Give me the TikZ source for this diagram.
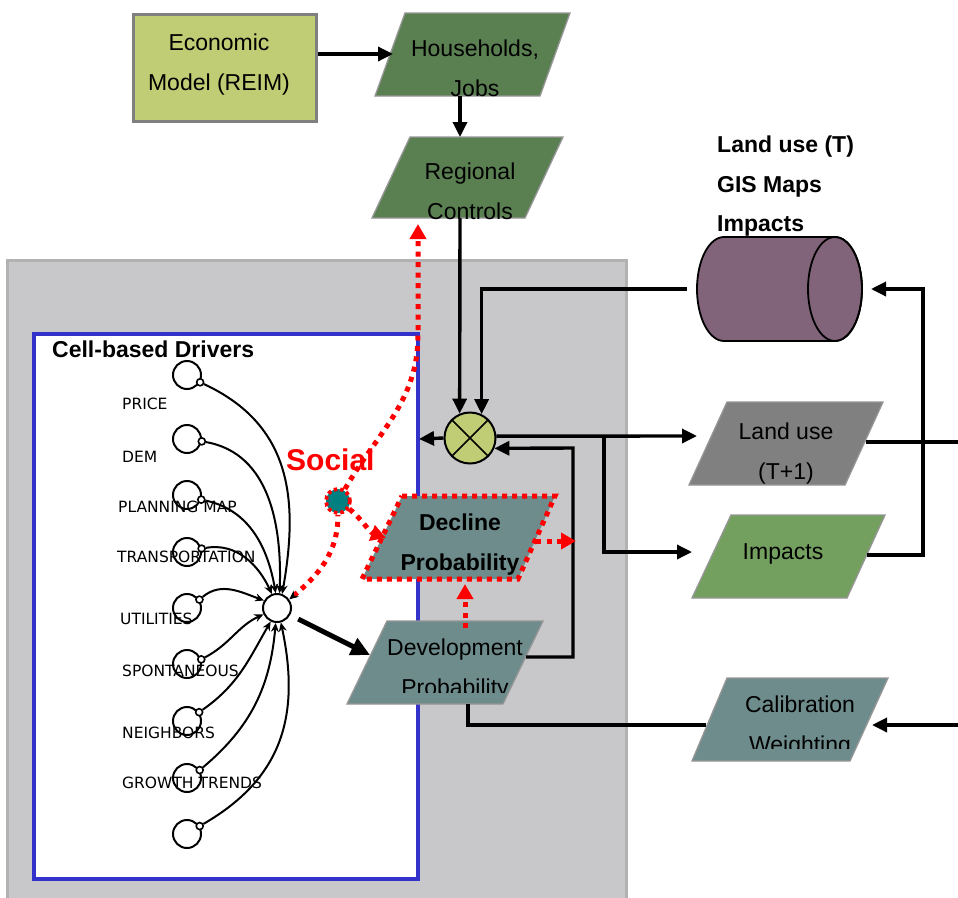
\documentclass[tikz,border=0pt]{standalone}
\usepackage{fontspec}
\setmainfont{Liberation Sans}
\newfontfamily\driverfont{DejaVu Sans}
\usetikzlibrary{arrows.meta}

\definecolor{ecoFill}{RGB}{193,205,116}
\definecolor{darkGreen}{RGB}{90,128,82}
\definecolor{impGreen}{RGB}{115,160,95}
\definecolor{luGray}{RGB}{128,128,128}
\definecolor{probTeal}{RGB}{110,140,140}
\definecolor{dbPurple}{RGB}{129,99,122}
\definecolor{panelGray}{RGB}{200,200,202}
\definecolor{panelEdge}{RGB}{178,178,178}
\definecolor{driverBlue}{RGB}{51,51,204}
\definecolor{edgeGray}{RGB}{150,150,150}
\definecolor{socTeal}{RGB}{0,128,128}

\begin{document}
\begin{tikzpicture}[x=1pt,y=-1pt,
  wire/.style={line width=3.4pt},
  flow/.style={wire,-{Triangle[length=15pt,width=14pt]}},
  shapeedge/.style={draw=edgeGray,line width=1.3pt},
  boxtext/.style={font=\fontsize{23}{40}\selectfont,align=center,inner sep=0pt},
  boldbox/.style={font=\bfseries\fontsize{23}{40}\selectfont,align=center,inner sep=0pt},
  headtext/.style={font=\bfseries\fontsize{23}{28}\selectfont,anchor=base west,inner sep=0pt},
  driver/.style={circle,draw,line width=2pt,minimum size=28pt,inner sep=0pt,fill=white},
  portc/.style={circle,draw,line width=1.6pt,minimum size=7pt,inner sep=0pt,fill=white},
  feed/.style={line width=2pt,-{Stealth[length=9pt,width=8pt]}},
  drvlabel/.style={font=\driverfont\fontsize{15.5}{18}\selectfont,anchor=base west,inner sep=0pt},
  reddot/.style={draw=red,line width=5pt,dash pattern=on 5pt off 5.5pt},
  redtip/.style={-{Triangle[length=15pt,width=16pt]}},
]
\useasboundingbox (0,0) rectangle (958,897);
\fill[white] (0,0) rectangle (958,897);

% model panel and driver frame
\draw[panelEdge,fill=panelGray,line width=3pt] (7,260) rectangle (626,915);
\draw[driverBlue,fill=white,line width=3.2pt] (34,334) rectangle (418,879);

% economic model box
\node[draw=luGray,line width=3pt,fill=ecoFill,minimum width=183pt,minimum height=107pt,inner sep=0pt] (eco) at (225,68) {};
\node[boxtext] (ecot) at (219,65) {Economic\\Model (REIM)};

% data parallelograms
\draw[shapeedge,fill=darkGreen] (405,13) -- (570,13) -- (540,96) -- (375,96) -- cycle;
\node[boxtext] (hh) at (475,68) {Households,\\Jobs};

\draw[shapeedge,fill=darkGreen] (410,137) -- (563,137) -- (525,218) -- (372,218) -- cycle;
\node[boxtext] (reg) at (470,191) {Regional\\Controls};

\draw[shapeedge,fill=luGray] (727,402) -- (883,402) -- (845,485) -- (689,485) -- cycle;
\begin{scope}
  \clip (680,395) rectangle (890,484);
  \node[boxtext] (lu) at (786,454) {Land use\\(T+1)};
\end{scope}

\draw[shapeedge,fill=impGreen] (731,515) -- (885,515) -- (847,598) -- (692,598) -- cycle;
\node[boxtext] (imp) at (783,554) {Impacts};

\draw[shapeedge,fill=probTeal] (727,678) -- (888,678) -- (850,761) -- (692,761) -- cycle;
\begin{scope}
  \clip (680,670) rectangle (895,748);
  \node[boxtext] (cal) at (800,727) {Calibration\\Weighting};
\end{scope}

\draw[shapeedge,fill=probTeal] (387,621) -- (543,621) -- (503,704) -- (347,704) -- cycle;
\begin{scope}
  \clip (340,615) rectangle (550,692);
  \node[boxtext] (dev) at (455,670) {Development\\Probability};
\end{scope}

\draw[fill=probTeal,draw=red,line width=5pt,dash pattern=on 5pt off 5pt] (402,496) -- (555,496) -- (518,579) -- (362,579) -- cycle;
\node[boldbox] (dec) at (460,545) {Decline\\Probability};

% land-use database cylinder
\draw[line width=1.8pt,fill=dbPurple] (724,237) -- (835,237)
  arc[start angle=90,end angle=-90,x radius=27pt,y radius=52pt] -- (724,341)
  arc[start angle=270,end angle=90,x radius=27pt,y radius=52pt] -- cycle;
\draw[line width=1.8pt] (835,289) ellipse [x radius=27pt,y radius=52pt];
\node[headtext] (dbl1) at (717,152) {Land use (T)};
\node[headtext] (dbl2) at (717,192) {GIS Maps};
\node[headtext] (dbl3) at (717,231) {Impacts};

% summing junction
\node[circle,draw,fill=ecoFill,line width=2pt,minimum size=51pt,inner sep=0pt] (mix) at (470,438) {};
\draw[line width=1.6pt] (mix.45) -- (mix.225) (mix.135) -- (mix.-45);

% attachment points
\coordinate (hhL) at (393,54);
\coordinate (hhB) at (460,96);
\coordinate (regT) at (460,137);
\coordinate (regB) at (460,218);
\coordinate (cylL) at (687,289);
\coordinate (cylR) at (871,289);
\coordinate (blueR) at (419,439);
\coordinate (luL) at (697,436);
\coordinate (split) at (604,436);
\coordinate (impL) at (692,552);
\coordinate (devR) at (526,657);
\coordinate (devB) at (468,704);
\coordinate (calL) at (706,725);
\coordinate (luR) at (866,442);
\coordinate (edgeA) at (958,442);
\coordinate (impR) at (867,555);
\coordinate (edgeB) at (958,725);
\coordinate (calR) at (872,725);
\coordinate (devL) at (370,655);

% black connectors
\draw[flow] (eco.east |- hhL) -- (hhL);
\draw[flow] (hhB) -- (regT);
\draw[flow] (regB) -- (mix.113);
\draw[flow] (cylL) -| (mix.64);
\draw[flow] (mix.west) -- (blueR);
\draw[flow] (mix.4) -- (luL);
\draw[flow] (split) |- (impL);
\draw[flow] (devR) -| (573,448) -- (mix.-23);
\draw[wire] (devB) |- (calL);
\draw[wire] (luR) -- (edgeA);
\draw[flow] (impR) -| (923,289) -- (cylR);
\draw[flow] (edgeB) -- (calR);

% cell-based drivers
\node[headtext] (cbd) at (52,357) {Cell-based Drivers};
\foreach \i/\y in {1/375,2/439,3/495,4/552,5/608,6/664,7/721,8/778,9/834}
  \node[driver] (d\i) at (187,\y) {};
\foreach \i/\a in {1/-29,2/-9,3/-18,4/13,5/34,6/18,7/36,8/32,9/32}
  \node[portc] (p\i) at (d\i.\a) {};
\node[driver] (hub) at (277,608) {};

\node[drvlabel] (l1) at (122,409.5) {PRICE};
\node[drvlabel] (l2) at (122,462.5) {DEM};
\node[drvlabel] (l3) at (118,512.5) {PLANNING MAP};
\node[drvlabel] (l4) at (117,562.5) {TRANSPORTATION};
\node[drvlabel] (l5) at (120,624.5) {UTILITIES};
\node[drvlabel] (l6) at (122,676) {SPONTANEOUS};
\node[drvlabel] (l7) at (122,738) {NEIGHBORS};
\node[drvlabel] (l8) at (122,788.5) {GROWTH TRENDS};

\draw[feed] (p1) to[out=-25,in=80,looseness=1.1] (hub.70);
\draw[feed] (p2) to[out=-10,in=88] (hub.80);
\draw[feed] (p3) to[out=-12,in=100] (hub.95);
\draw[feed] (p4) to[out=10,in=115] (hub.110);
\draw[feed] (p5) to[out=40,in=160] (hub.150);
\draw[feed] (p6) to[out=28,in=205] (hub.205);
\draw[feed] (p7) to[out=35,in=240] (hub.245);
\draw[feed] (p8) to[out=40,in=265] (hub.265);
\draw[feed] (p9) to[out=30,in=-78,looseness=1.1] (hub.285);

\draw[line width=5pt,-{Triangle[length=19pt,width=18pt]},shorten <=9pt] (hub.-28) -- (devL);

% social influence
\node[font=\bfseries\fontsize{30}{32}\selectfont,text=red,anchor=base west,inner sep=0pt] (soclabel) at (286,470) {Social};
\node[circle,fill=socTeal,minimum size=24pt,inner sep=0pt,draw=red,line width=3.8pt,dash pattern=on 3.5pt off 3pt] (soc) at (338,501) {};

\coordinate (regRed) at (418,224);
\coordinate (decL) at (386,538);
\coordinate (decR) at (536,541);
\coordinate (decOut) at (576,541);
\coordinate (devT) at (465,628);
\coordinate (decB) at (465,584);

\draw[reddot,{Stealth[length=9pt,width=8pt,black]}-] (hub.35) to[out=40,in=-90] (soc.south);
\draw[reddot,redtip] (soc.60) to[out=60,in=-90] (418,335) -- (regRed);
\draw[reddot,redtip] (soc.-35) to[out=-40,in=160] (decL);
\draw[reddot,redtip] (decR) -- (decOut);
\draw[reddot,redtip] (devT) -- (decB);
\end{tikzpicture}
\end{document}
